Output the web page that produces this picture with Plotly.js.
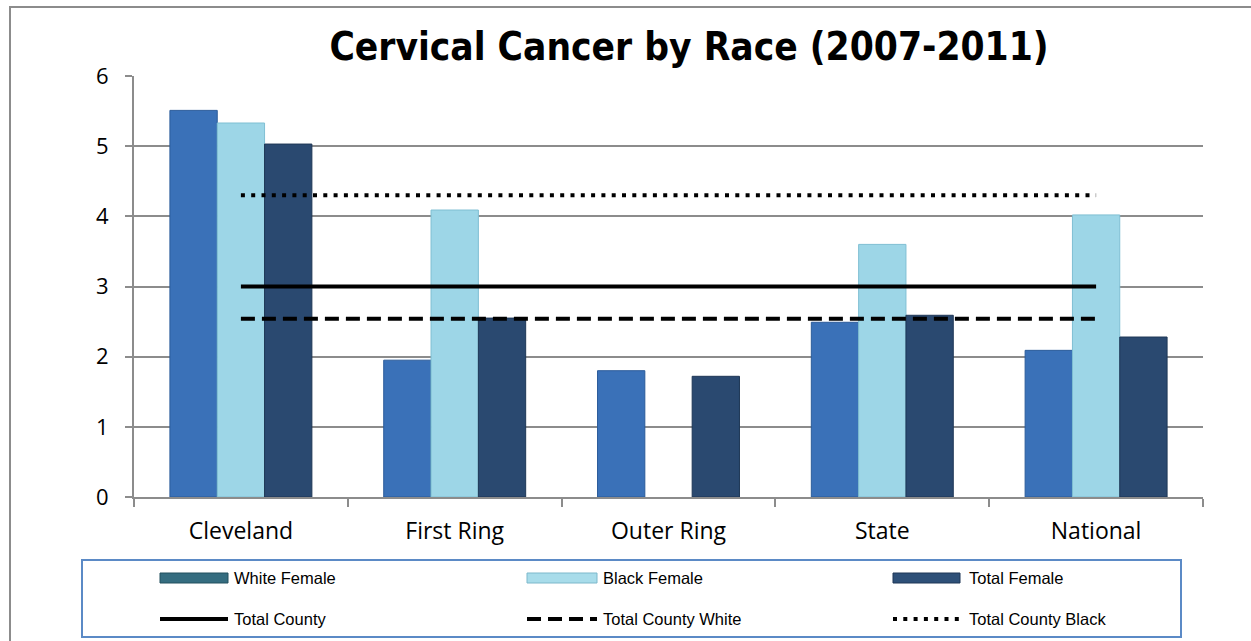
<!DOCTYPE html>
<html>
<head>
<meta charset="utf-8">
<script src="https://cdn.plot.ly/plotly-3.0.1.min.js"></script>
<style>
html,body{margin:0;padding:0;background:#fff;}
#chart{width:1251px;height:641px;}
</style>
</head>
<body>
<div id="chart"></div>
<script>
// ---- data ----
var categories = ["Cleveland", "First Ring", "Outer Ring", "State", "National"];
var whiteFemale = [5.51, 1.95, 1.80, 2.49, 2.09];
var blackFemale = [5.33, 4.09, null, 3.60, 4.02];
var totalFemale = [5.03, 2.55, 1.72, 2.59, 2.28];
var totalCounty = [3.0, 3.0, 3.0, 3.0, 3.0];
var totalCountyWhite = [2.54, 2.54, 2.54, 2.54, 2.54];
var totalCountyBlack = [4.30, 4.30, 4.30, 4.30, 4.30];
var yTicks = [0, 1, 2, 3, 4, 5, 6];

// ---- layout geometry (pixels) ----
var W = 1251, H = 641;
var L = 134, R = 1203, T = 76, B = 497;
var pw = R - L, ph = B - T;
function px(x){ return (x - L) / pw; }
function py(y){ return (B - y) / ph; }

var cWhite = "#3A71B8", cBlack = "#9DD6E7", cTotal = "#2A4970";

var traces = [
  {type:"bar", name:"White Female", x:categories, y:whiteFemale,
   marker:{color:cWhite, line:{color:"#2B5C9A", width:1}}, showlegend:false, hoverinfo:"x+y+name"},
  {type:"bar", name:"Black Female", x:categories, y:blackFemale,
   marker:{color:cBlack, line:{color:"#7FBFD3", width:1}}, showlegend:false, hoverinfo:"x+y+name"},
  {type:"bar", name:"Total Female", x:categories, y:totalFemale,
   marker:{color:cTotal, line:{color:"#1E3756", width:1}}, showlegend:false, hoverinfo:"x+y+name"},
  {type:"scatter", mode:"lines", name:"Total County", x:categories, y:totalCounty,
   line:{color:"#000", width:4}, showlegend:false},
  {type:"scatter", mode:"lines", name:"Total County White", x:categories, y:totalCountyWhite,
   line:{color:"#000", width:4, dash:"14px,7px"}, showlegend:false},
  {type:"scatter", mode:"lines", name:"Total County Black", x:categories, y:totalCountyBlack,
   line:{color:"#000", width:4, dash:"4px,6.3px"}, showlegend:false}
];

// ---- custom legend ----
var legFont = {family:"Liberation Sans, Arial, sans-serif", size:16.5, color:"#000"};
var rows = [578, 619];
var cols = [[160, 228, 232], [527, 597, 601], [893, 960, 967]];
var legendItems = [
  {name:"White Female", kind:"rect", fill:"#356D80", line:"#23505E", row:0, col:0},
  {name:"Black Female", kind:"rect", fill:"#A8DCEA", line:"#7DB8CB", row:0, col:1},
  {name:"Total Female", kind:"rect", fill:"#2E5078", line:"#1E3756", row:0, col:2},
  {name:"Total County", kind:"line", dash:"solid", row:1, col:0},
  {name:"Total County White", kind:"line", dash:"14px,7px", row:1, col:1},
  {name:"Total County Black", kind:"line", dash:"4px,6.3px", row:1, col:2}
];

var shapes = [
  // outer chart border
  {type:"rect", xref:"paper", yref:"paper", x0:px(10), x1:px(1262), y0:py(655), y1:py(7),
   line:{color:"#8C8C8C", width:2}, fillcolor:"rgba(0,0,0,0)", layer:"below"},
  // legend box
  {type:"rect", xref:"paper", yref:"paper", x0:px(82), x1:px(1181), y0:py(637), y1:py(560),
   line:{color:"#5B8AC6", width:2}, fillcolor:"rgba(0,0,0,0)"}
];
var annotations = [];
legendItems.forEach(function(it){
  var c = cols[it.col], y = rows[it.row];
  if (it.kind === "rect") {
    shapes.push({type:"rect", xref:"paper", yref:"paper", x0:px(c[0]), x1:px(c[1]),
      y0:py(y+5), y1:py(y-5), fillcolor:it.fill, line:{color:it.line, width:1}});
  } else {
    shapes.push({type:"line", xref:"paper", yref:"paper", x0:px(c[0]), x1:px(c[1]),
      y0:py(y), y1:py(y), line:{color:"#000", width:4, dash:it.dash}});
  }
  annotations.push({xref:"paper", yref:"paper", x:px(c[2]), y:py(y), xanchor:"left", yanchor:"middle",
    text:it.name, showarrow:false, font:legFont});
});

var layout = {
  width:W, height:H,
  margin:{l:L, r:W-R, t:T, b:H-B},
  paper_bgcolor:"#fff", plot_bgcolor:"#fff",
  title:{text:"<b>Cervical Cancer by Race (2007-2011)</b>",
    font:{family:"Liberation Sans Narrow, Arial Narrow, DejaVu Sans Condensed, sans-serif", size:38.5, color:"#000"},
    x:px(689), xanchor:"center", y:1-47/H, yanchor:"middle", xref:"paper", yref:"container"},
  barmode:"group", bargap:0.336, bargroupgap:0,
  showlegend:false,
  xaxis:{type:"category", range:[-0.5, 4.5], showgrid:false, showline:true, linecolor:"#8C8C8C", linewidth:2,
    ticks:"outside", tickson:"boundaries", ticklen:8, tickcolor:"#8C8C8C", tickwidth:2,
    tickfont:{family:"Open Sans, sans-serif", size:23, color:"#000"}, zeroline:false, ticklabelstandoff:12},
  yaxis:{range:[0, 6], tickvals:yTicks, ticktext:yTicks.map(String), showgrid:true, gridcolor:"#8C8C8C", gridwidth:2,
    showline:true, linecolor:"#8C8C8C", linewidth:2, ticks:"outside", ticklen:7, tickcolor:"#8C8C8C", tickwidth:2,
    tickfont:{family:"Open Sans, sans-serif", size:22, color:"#000"}, zeroline:false, ticklabelstandoff:12},
  shapes:shapes,
  annotations:annotations
};

Plotly.newPlot("chart", traces, layout, {displayModeBar:false, staticPlot:true});
</script>
</body>
</html>
